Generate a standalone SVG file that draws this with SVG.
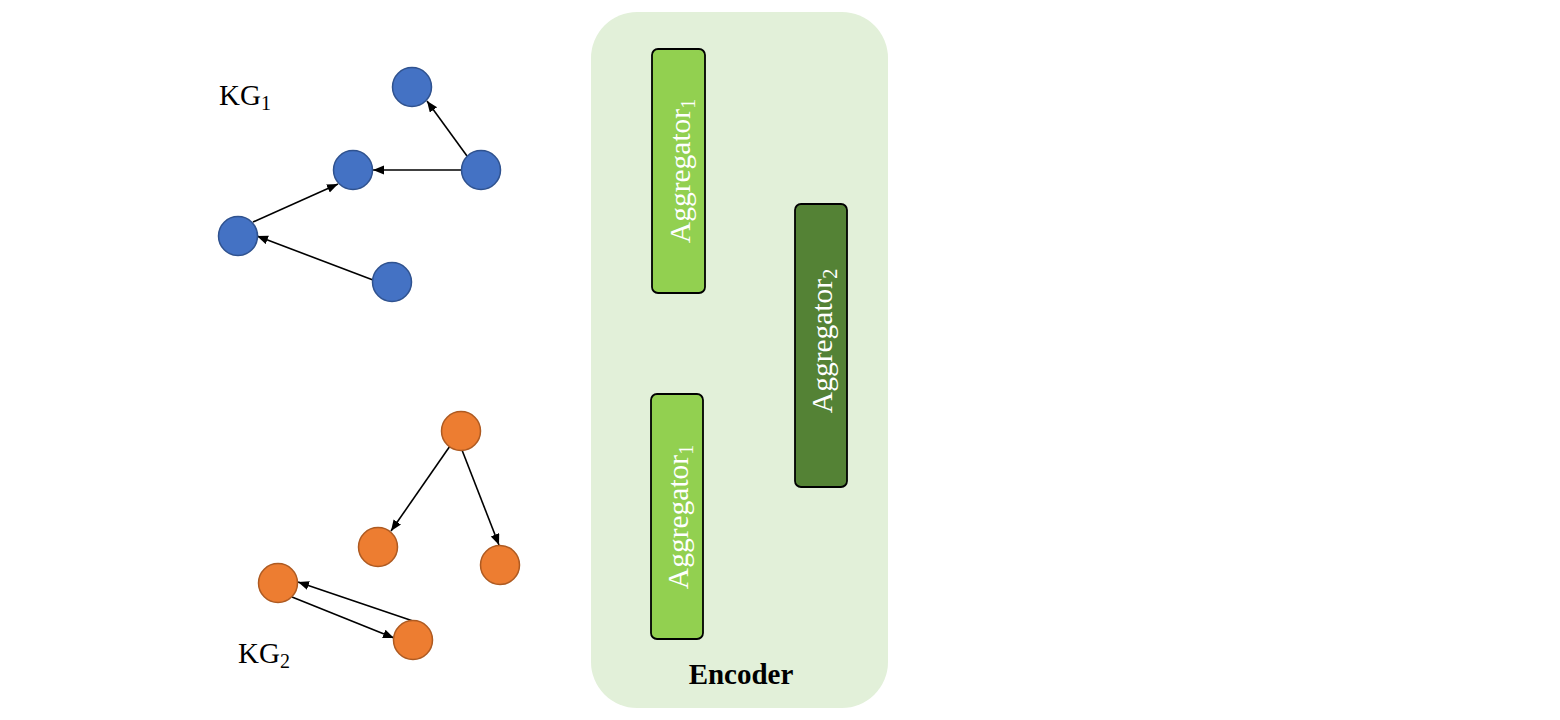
<svg xmlns="http://www.w3.org/2000/svg" width="1560" height="720" viewBox="0 0 1560 720">
<defs>
<marker id="arr" markerUnits="userSpaceOnUse" markerWidth="12" markerHeight="10" refX="11" refY="4.5" orient="auto">
<path d="M0,0 L11,4.5 L0,9 Z" fill="#000"/>
</marker>
<style>
.blue{fill:#4472c4;stroke:#2f528f;stroke-width:1.5}
.orange{fill:#ed7d31;stroke:#ae5a21;stroke-width:1.5}
.edge{stroke:#000;stroke-width:1.6;fill:none;marker-end:url(#arr)}
.lbl{font-family:"Liberation Serif","Times New Roman",serif;font-size:29px;fill:#000}
.agg{stroke:#000;stroke-width:1.8}
.aggt{font-family:"Liberation Serif","Times New Roman",serif;font-size:29.5px;fill:#fff}
</style>
</defs>
<rect width="1560" height="720" fill="#fff"/>
<g id="encoder">
<rect x="591" y="12" width="297" height="696" rx="46" fill="#e2f0d9"/>
<text class="lbl" x="741" y="684" text-anchor="middle" font-weight="bold" font-size="30.5">Encoder</text>
</g>
<g id="agg1-top">
<rect class="agg" x="652" y="49" width="53" height="244" rx="6" fill="#92d050"/>
<text class="aggt" transform="translate(690,171) rotate(-90)" text-anchor="middle">Aggregator<tspan font-size="20" dy="5">1</tspan></text>
</g>
<g id="agg1-bottom">
<rect class="agg" x="651" y="394" width="52" height="245" rx="6" fill="#92d050"/>
<text class="aggt" transform="translate(688,517) rotate(-90)" text-anchor="middle">Aggregator<tspan font-size="20" dy="5">1</tspan></text>
</g>
<g id="agg2">
<rect class="agg" x="795" y="204" width="52" height="283" rx="6" fill="#548235"/>
<text class="aggt" transform="translate(832,341) rotate(-90)" text-anchor="middle">Aggregator<tspan font-size="20" dy="5">2</tspan></text>
</g>
<g id="kg1-label"><text class="lbl" x="219" y="105">KG<tspan font-size="20" dy="5">1</tspan></text></g>
<g id="kg2-label"><text class="lbl" x="238" y="663">KG<tspan font-size="20" dy="5">2</tspan></text></g>
<g id="connectors">
<line class="edge" x1="467" y1="156" x2="427" y2="101"/>
<line class="edge" x1="462" y1="170" x2="373" y2="170"/>
<line class="edge" x1="253" y1="222" x2="338" y2="184"/>
<line class="edge" x1="373" y1="280" x2="257" y2="236"/>
<line class="edge" x1="450" y1="446" x2="391" y2="531"/>
<line class="edge" x1="462" y1="450" x2="499" y2="545"/>
<line class="edge" x1="413" y1="621" x2="298" y2="582"/>
<line class="edge" x1="292" y1="597" x2="394" y2="638"/>
</g>
<g id="kg1-n1"><circle class="blue" cx="412" cy="87" r="19.5"/></g>
<g id="kg1-n2"><circle class="blue" cx="353" cy="170" r="19.5"/></g>
<g id="kg1-n3"><circle class="blue" cx="481" cy="170" r="19.5"/></g>
<g id="kg1-n4"><circle class="blue" cx="238" cy="236" r="19.5"/></g>
<g id="kg1-n5"><circle class="blue" cx="392" cy="282" r="19.5"/></g>
<g id="kg2-n1"><circle class="orange" cx="461" cy="431" r="19.5"/></g>
<g id="kg2-n2"><circle class="orange" cx="378" cy="547" r="19.5"/></g>
<g id="kg2-n3"><circle class="orange" cx="500" cy="565" r="19.5"/></g>
<g id="kg2-n4"><circle class="orange" cx="278" cy="583" r="19.5"/></g>
<g id="kg2-n5"><circle class="orange" cx="413" cy="640" r="19.5"/></g>
</svg>
